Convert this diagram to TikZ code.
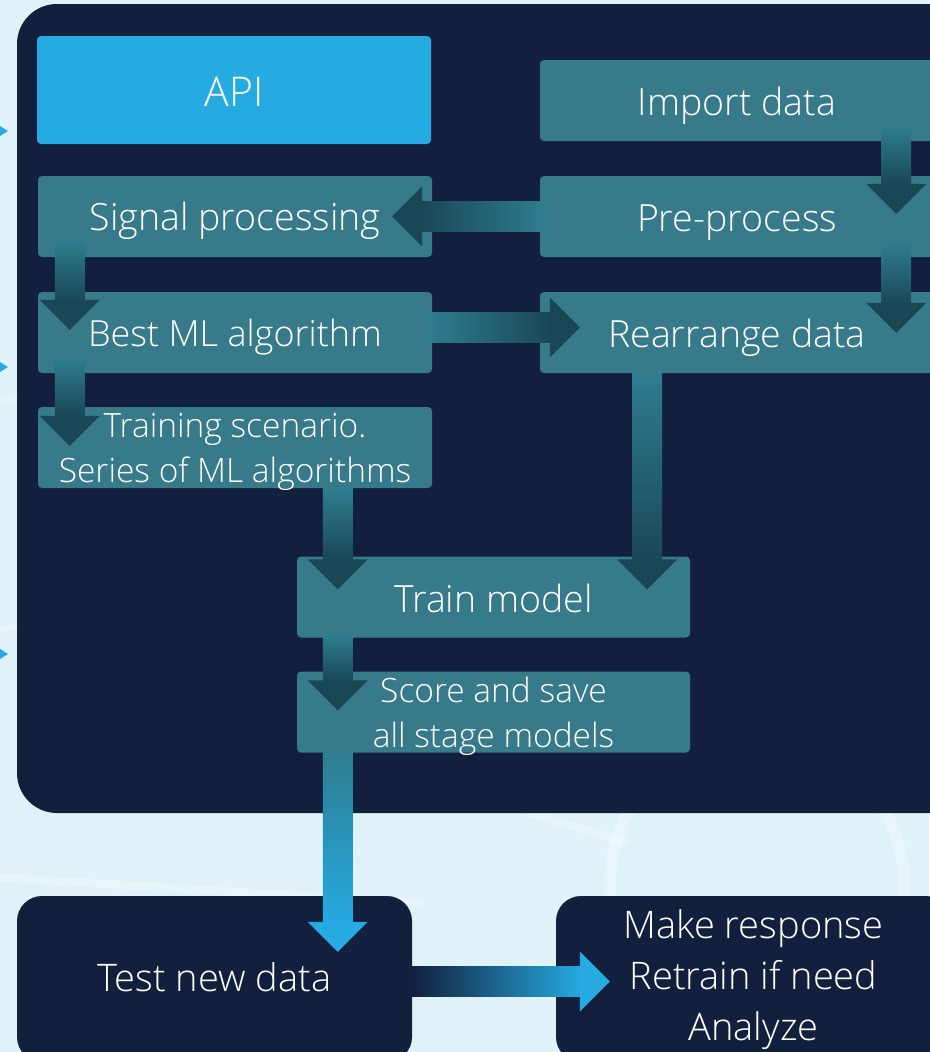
\documentclass[tikz,border=0pt]{standalone}
\usepackage{fontspec}
\setmainfont{Open Sans Light}
\usetikzlibrary{calc}
\definecolor{bgc}{HTML}{DFF2F7}
\definecolor{panelc}{HTML}{13203D}
\definecolor{boxc}{HTML}{377A89}
\definecolor{apic}{HTML}{25AAE1}
\definecolor{arrL}{HTML}{2E7E90}
\definecolor{arrD}{HTML}{1A4755}
\definecolor{arrM}{HTML}{236878}
\newcommand\lbl[2]{\raisebox{-#1}{\begin{tabular}[b]{@{}c@{}}#2\end{tabular}}}
\newcommand\vdarrow[4]{%
  \shade[top color=#3, bottom color=#4] let \p1=(#1), \p2=(#2) in (\x2-15pt,\y1) rectangle (\x2+15pt,\y2+29pt);
  \fill[#4] let \p2=(#2) in (\x2-30pt,\y2+30pt) -- (\x2+30pt,\y2+30pt) -- (\x2,\y2) -- cycle;}
\newcommand\hlarrow[4]{%
  \shade[left color=#4, right color=#3] let \p1=(#1), \p2=(#2) in (\x2+29pt,\y2-15pt) rectangle (\x1,\y2+15pt);
  \fill[#4] let \p2=(#2) in (\x2+30pt,\y2-30pt) -- (\x2+30pt,\y2+30pt) -- (\x2,\y2) -- cycle;}
\newcommand\hrarrow[4]{%
  \shade[left color=#3, right color=#4] let \p1=(#1), \p2=(#2) in (\x1,\y2-15pt) rectangle (\x2-29pt,\y2+15pt);
  \fill[#4] let \p2=(#2) in (\x2-30pt,\y2-30pt) -- (\x2-30pt,\y2+30pt) -- (\x2,\y2) -- cycle;}
\begin{document}
\begin{tikzpicture}[x=1pt,y=-1pt,
  tbox/.style={fill=boxc, rounded corners=4pt, minimum width=394pt, minimum height=81pt,
    inner sep=0pt, text height=0pt, text depth=0pt, text=white, font=\fontsize{37.5}{45}\selectfont},
  tbox2/.style={tbox, font=\fontsize{33.5}{45}\selectfont},
  dbox/.style={fill=panelc, rounded corners=25pt, minimum width=395pt, minimum height=166pt,
    inner sep=0pt, text height=0pt, text depth=0pt, text=white, font=\fontsize{38}{51}\selectfont},
  edgetri/.style={fill=apic}]
\useasboundingbox (0,0) rectangle (929,1052);
\fill[bgc] (0,0) rectangle (929,1052);
% faint background decorations
\draw[white, opacity=0.3, line width=12pt] (757,884) circle (147);
\draw[white, opacity=0.3, line width=8pt, line cap=round] (-10,877) -- (420,903);
\draw[white, opacity=0.3, line width=8pt, line cap=round] (530,813) -- (625,842);
\draw[white, opacity=0.3, line width=6pt] (-5,402) -- (20,396);
\draw[white, opacity=0.3, line width=6pt] (-5,630) -- (20,626);
% left edge tips
\fill[edgetri] (0,126) -- (8,131) -- (0,136) -- cycle;
\fill[edgetri] (0,362) -- (8,367) -- (0,372) -- cycle;
\fill[edgetri] (0,649) -- (8,654) -- (0,659) -- cycle;
% panel
\fill[panelc, rounded corners=40pt] (17,4) rectangle (980,813);
% boxes
\node[tbox, fill=apic, minimum height=108pt, font=\fontsize{41}{48}\selectfont] (api) at (234,90) {\lbl{16pt}{API}};
\node[tbox] (imp) at (737,100.5) {\lbl{14.5pt}{Import data}};
\node[tbox] (sig) at (235,216.5) {\lbl{14pt}{Signal processing}};
\node[tbox] (pre) at (737,216.5) {\lbl{14.5pt}{Pre-process}};
\node[tbox, font=\fontsize{36}{45}\selectfont] (best) at (235,332.5) {\lbl{13.5pt}{Best ML algorithm}};
\node[tbox] (rea) at (737,332.5) {\lbl{14.5pt}{Rearrange data}};
\node[tbox2] (trn) at (235,447.5) {\lbl{34.5pt}{Training scenario.\\Series of ML algorithms}};
\node[tbox, minimum width=393pt] (tm) at (493.5,597) {\lbl{15pt}{Train model}};
\node[tbox2, minimum width=393pt] (sc) at (493.5,712) {\lbl{35pt}{Score and save\\all stage models}};
\node[dbox] (test) at (214.5,979) {\lbl{12pt}{Test new data}};
\node[dbox] (mk) at (753.5,979) {\lbl{61pt}{Make response\\Retrain if need\\Analyze}};
% arrows
\vdarrow{$(imp.south east)+(-38,-16)$}{$(pre.north east)+(-38,38)$}{arrL}{arrD}
\vdarrow{$(pre.south east)+(-38,-14)$}{$(rea.north east)+(-38,41)$}{arrL}{arrD}
\hlarrow{$(pre.west)+(7,0)$}{$(sig.east)+(-40,0)$}{arrL}{arrD}
\hrarrow{$(best.east)+(-5,-5)$}{$(rea.west)+(40,-5)$}{arrL}{arrD}
\vdarrow{$(sig.south west)+(32,-17)$}{$(best.north west)+(32,38)$}{arrL}{arrD}
\vdarrow{$(best.south west)+(32,-16)$}{$(trn.north west)+(32,39)$}{arrL}{arrD}
\vdarrow{$(trn.south west)+(300,0)$}{$(tm.north west)+(41,33)$}{arrL}{arrD}
\vdarrow{$(rea.south west)+(107,0)$}{$(tm.north east)+(-43,33)$}{arrL}{arrD}
\vdarrow{$(tm.south west)+(41,-3)$}{$(sc.north west)+(41,39)$}{arrL}{arrD}
\shade[top color=arrL, middle color=arrM, bottom color=apic] let \p1=(sc.south west), \p2=($(test.north west)+(321,56)$) in (\x2-15pt,\y1) rectangle (\x2+15pt,\y2+29pt);
\fill[apic] let \p2=($(test.north west)+(321,56)$) in (\x2-30pt,\y2+30pt) -- (\x2+30pt,\y2+30pt) -- (\x2,\y2) -- cycle;
\hrarrow{$(test.east)+(0,2.5)$}{$(mk.west)+(54,2.5)$}{panelc}{apic}
\end{tikzpicture}
\end{document}
